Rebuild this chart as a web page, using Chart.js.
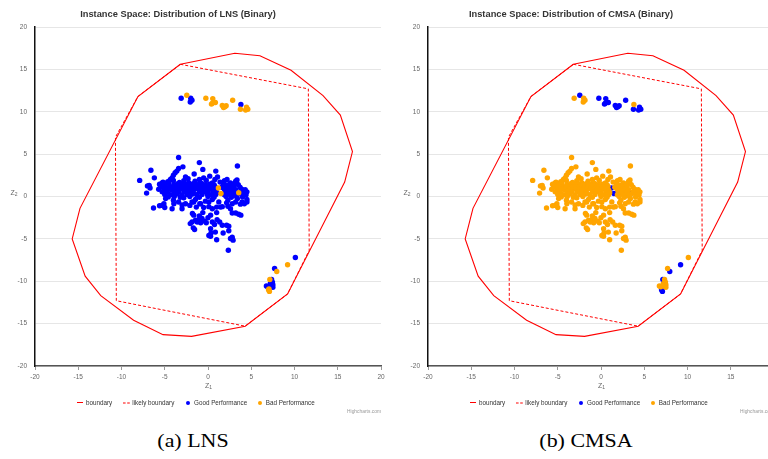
<!DOCTYPE html>
<html>
<head>
<meta charset="utf-8">
<script src="https://cdn.jsdelivr.net/npm/chart.js@4"></script>
<style>
  body { margin:0; width:768px; height:459px; overflow:hidden; background:#fff; position:relative;
         font-family:"Liberation Sans", Arial, Helvetica, sans-serif; }
  .panel { position:absolute; top:0; width:393px; height:459px; }
  .panel canvas { position:absolute; left:0; top:0; }
  .title { position:absolute; top:9px; left:0; width:356px; text-align:center; font-weight:bold;
           font-size:8.3px; line-height:10px; color:#333; transform:scaleX(1.12); white-space:nowrap; }
  .axt { position:absolute; font-size:7px; line-height:8px; color:#666; white-space:nowrap; }
  .axt span { font-size:5px; position:relative; top:1px; }
  .lg { position:absolute; font-size:6.3px; line-height:8px; top:398.7px; color:#333; white-space:nowrap; }
  .sym { position:absolute; }
  .dot { position:absolute; width:4.4px; height:4.4px; border-radius:50%; top:400.5px; }
  .credit { position:absolute; right:12px; top:409px; font-size:4.9px; line-height:6px; color:#999; }
  .caption { position:absolute; top:432px; left:0; width:386px; text-align:center;
             font-family:"Liberation Serif", "Times New Roman", serif; font-size:18px; line-height:18px;
             color:#000; transform:scaleX(1.22); }
</style>
</head>
<body>

<div class="panel" id="p0" style="left:0">
  <canvas id="c0" width="393" height="392"></canvas>
</div>
<div class="panel" id="p1" style="left:393px">
  <canvas id="c1" width="393" height="392"></canvas>
</div>

<script>
// boundary polygons (same instance space for both charts)
const boundaryX = [-3.2, 3.1, 6.0, 9.6, 13.3, 15.3, 16.7, 15.8, 9.2, 4.3, -1.9, -5.2, -8.6, -12.4, -14.2, -15.7, -14.8, -8.1, -3.2];
const boundaryY = [15.6, 16.9, 16.6, 14.9, 11.9, 9.6, 5.3, 1.7, -11.5, -15.3, -16.5, -16.3, -14.6, -11.7, -9.4, -5.0, -1.4, 11.8, 15.6];
const likelyX = [-3.2, 11.6, 11.7, 9.2, 4.3, -10.6, -10.7, -8.1, -3.2];
const likelyY = [15.6, 12.7, -6.35, -11.5, -15.3, -12.3, 7.0, 11.8, 15.6];

// instances where LNS is good and CMSA is bad
const mainA = [
  [-3.4,4.6],[-1.0,4.0],[3.4,3.6],[-2.9,3.5],[-0.6,3.2],[-6.6,3.1],[0.9,3.0],[1.1,2.3],[-1.6,2.65],[-6.2,2.2],
  [0.2,2.4],[-7.9,1.9],[3.35,1.95],[3.3,1.6],[-7.0,1.25],[-6.8,1.3],[-6.7,1.0],[-7.1,0.4],
  [-3.4,3.3],[-3.6,3.0],[-3.8,2.8],[-4.0,2.5],[-4.15,2.2],[-4.35,2.0],[-4.65,1.75],[-4.9,1.55],[-5.3,1.6],[-5.5,1.35],
  [-2.3,2.1],[-1.0,2.0],[2.2,2.0],[-0.5,2.2],[0.8,2.0],[1.9,1.85],[-2.6,2.3],
  [-5.2,1.7],[-4.0,1.9],[-3.3,1.65],[-2.8,1.85],[-2.2,1.6],[-1.5,1.8],[-0.9,1.65],[-0.2,1.9],[0.5,1.6],[1.4,1.7],[2.6,1.6],[3.2,1.8],
  [-5.6,1.45],[-5.0,1.4],[-4.5,1.5],[-3.9,1.4],[-3.5,1.5],[-3.0,1.4],[-2.6,1.5],[-2.1,1.4],[-1.7,1.5],[-1.2,1.4],
  [-0.7,1.5],[-0.3,1.4],[0.2,1.45],[0.7,1.4],[1.8,1.45],[2.3,1.35],[2.9,1.45],[3.5,1.4],
  [-5.4,1.15],[-4.9,1.1],[-4.4,1.2],[-4.0,1.1],[-3.6,1.2],[-3.2,1.1],[-2.8,1.15],[-2.4,1.2],[-1.9,1.1],[-1.5,1.15],
  [-1.1,1.2],[-0.6,1.1],[-0.2,1.15],[0.3,1.1],[0.8,1.2],[1.6,1.1],[2.1,1.2],[2.6,1.1],[3.0,1.15],[3.7,1.1],
  [-5.7,0.85],[-5.1,0.8],[-4.6,0.9],[-4.2,0.8],[-3.7,0.9],[-3.3,0.8],[-2.9,0.85],[-2.5,0.9],[-2.0,0.8],[-1.6,0.85],[-1.2,0.9],
  [-0.8,0.8],[-0.4,0.85],[0.1,0.9],[0.5,0.8],[0.9,0.75],[1.9,0.85],[2.4,0.8],[2.8,0.9],[3.2,0.8],[3.9,0.85],[4.3,0.8],
  [-5.3,0.55],[-4.7,0.5],[-3.9,0.6],[-3.4,0.5],[-2.7,0.55],[-2.2,0.6],[-1.7,0.5],[-1.0,0.55],[-0.5,0.6],
  [0.0,0.5],[0.6,0.55],[1.0,0.45],[2.0,0.55],[2.6,0.5],[3.0,0.6],[3.7,0.55],[4.1,0.5],[4.5,0.55],
  [-5.0,0.25],[-4.3,0.2],[-3.6,0.3],[-3.0,0.2],[-2.4,0.25],[-1.8,0.3],[-1.3,0.2],[-0.7,0.25],[-0.1,0.3],
  [0.4,0.2],[0.9,0.25],[1.9,0.2],[2.4,0.3],[2.9,0.2],[3.4,0.25],[4.0,0.3],[4.4,0.2],
  [-4.6,-0.05],[-3.9,0.0],[-3.2,-0.1],[-2.1,0.0],[-1.0,-0.1],[0.0,0.0],[0.7,-0.1],[2.1,0.0],[2.7,-0.1],[3.3,0.0],[4.0,-0.05],
  [-4.9,-0.25],[-4.0,-0.45],[-5.1,-0.85],[-2.8,-0.15],[-3.0,-1.0],[-1.85,-0.65],[-1.45,-0.35],[-0.85,-0.85],[-0.3,-0.55],
  [0.1,-1.2],[0.5,-0.35],[1.25,-0.65],[1.65,-1.2],[2.3,-0.45],[2.8,-0.85],[3.4,-0.25],[3.95,-0.65],[4.5,-0.35],[4.2,-0.85],
  [-6.3,-1.35],[-5.6,-1.1],[-5.3,-1.05],[-5.0,-1.3],[-4.15,-1.45],[-3.95,-0.85],[-3.4,-0.65],[-3.0,-1.45],[-2.6,-0.85],[-2.1,-1.05],
  [-1.65,-0.65],[-1.35,-1.25],[-0.95,-0.85],[-0.5,-1.3],[0.1,-0.65],[0.5,-1.45],[1.0,-1.25],[1.45,-1.25],[2.15,-0.75],[2.3,-1.15],
  [2.6,-1.45],[3.2,-0.65],[3.75,-0.9],[4.5,-0.65],
  [2.8,-1.95],[3.2,-1.95],[3.55,-2.1],[3.8,-2.2],[0.3,-2.2],[-1.65,-2.2],[-1.45,-2.8],[-1.05,-2.75],[-0.7,-2.6],[-0.4,-2.9],
  [-0.85,-3.1],[-1.25,-3.0],[-1.85,-3.0],[-2.05,-3.2],[0.5,-3.0],[0.75,-3.3],[1.05,-2.75],[1.35,-3.0],[1.65,-3.4],[2.15,-3.4],
  [2.4,-3.5],[-1.8,-2.0],[-0.6,-1.9],[1.0,-1.9],[0.0,-2.5],[-0.2,-3.1],[-1.0,-2.3],
  [-1.7,-3.7],[-1.55,-3.9],[0.3,-3.8],[0.35,-4.3],[0.1,-4.6],[0.85,-4.2],[1.0,-5.1],[1.75,-4.3],[2.4,-4.05],[2.6,-4.95],
  [2.9,-5.15],[2.8,-4.8],[2.35,-6.35],[0.3,-4.7]
];
const topA = [[-3.1,11.6],[-2.0,11.6],[-1.85,11.35],[-2.05,11.15],[3.8,10.85]];
const lowA = [[10.1,-7.2],[7.7,-8.5],[7.35,-9.8],[7.45,-10.1],[7.5,-10.4],[7.35,-10.6],[7.5,-10.7],[6.75,-10.55],[6.9,-10.65],[7.2,-10.3]];

// instances where LNS is bad and CMSA is good
const mainB = [[1.2,1.0],[1.5,0.35],[3.55,0.45]];
const topB = [[-2.45,11.95],[-0.25,11.6],[0.55,11.55],[0.5,11.0],[0.85,11.1],[0.4,10.9],[1.65,10.75],[1.95,10.6],[2.1,10.7],
  [1.8,10.5],[2.85,11.35],[3.75,10.3],[4.45,10.55],[4.6,10.3],[4.35,10.2]];
const lowB = [[9.2,-8.05],[7.95,-8.85],[7.15,-9.8],[7.05,-10.9],[7.1,-11.2],[7.0,-11.0]];

const xTicks = [-20, -15, -10, -5, 0, 5, 10, 15, 20];
const yTicks = [-20, -15, -10, -5, 0, 5, 10, 15, 20];

const charts = [
  { name: 'LNS', caption: '(a) LNS' },
  { name: 'CMSA', caption: '(b) CMSA' }
];

const groupA = mainA.concat(topA, lowA);
const groupB = mainB.concat(topB, lowB);
const toXY = arr => arr.map(p => ({ x: p[0], y: p[1] }));
const boundary = boundaryX.map((x, i) => ({ x: x, y: boundaryY[i] }));
const likely = likelyX.map((x, i) => ({ x: x, y: likelyY[i] }));

Chart.defaults.font.family = '"Liberation Sans", Arial, sans-serif';

function makeChart(idx, good, bad) {
  const panel = document.getElementById('p' + idx);
  const info = charts[idx];

  // text around the plot
  panel.insertAdjacentHTML('beforeend', `
    <div class="title">Instance Space: Distribution of ${info.name} (Binary)</div>
    <div class="axt" style="left:10.5px;top:189px">Z<span>2</span></div>
    <div class="axt" style="left:205px;top:382px">Z<span>1</span></div>
    <div class="sym" style="left:76.7px;top:402.1px;width:6.6px;height:1.2px;background:#ff0000"></div>
    <div class="lg" style="left:86px">boundary</div>
    <svg class="sym" style="left:122.7px;top:400.7px" width="7" height="4"><line x1="0" y1="2" x2="7" y2="2" stroke="#ff0000" stroke-width="1.2" stroke-dasharray="2.6,1.6"/></svg>
    <div class="lg" style="left:132.3px">likely boundary</div>
    <div class="dot" style="left:185.5px;background:#0000ff"></div>
    <div class="lg" style="left:194px">Good Performance</div>
    <div class="dot" style="left:257.8px;background:#ffa500"></div>
    <div class="lg" style="left:265.7px">Bad Performance</div>
    <div class="credit">Highcharts.com</div>
    <div class="caption">${info.caption}</div>
  `);

  new Chart(document.getElementById('c' + idx), {
    type: 'scatter',
    data: {
      datasets: [
        { label: 'boundary', data: boundary, showLine: true, borderColor: '#ff0000', borderWidth: 1.1,
          pointRadius: 0, order: 2 },
        { label: 'likely boundary', data: likely, showLine: true, borderColor: '#ff0000', borderWidth: 1,
          borderDash: [3, 2], pointRadius: 0, order: 3 },
        { label: 'Good Performance', data: toXY(good), backgroundColor: '#0000ff', pointBorderWidth: 0,
          pointRadius: 2.7, order: 1 },
        { label: 'Bad Performance', data: toXY(bad), backgroundColor: '#ffa500', pointBorderWidth: 0,
          pointRadius: 2.7, order: 0 }
      ]
    },
    options: {
      responsive: false,
      animation: false,
      events: [],
      layout: { padding: { top: 27, right: 12, bottom: 0, left: 0 } },
      plugins: { legend: { display: false }, tooltip: { enabled: false } },
      scales: {
        x: {
          type: 'linear', min: -20, max: 20,
          afterBuildTicks: s => { s.ticks = xTicks.map(v => ({ value: v })); },
          ticks: { font: { size: 6.5 }, color: '#666', padding: 3, maxRotation: 0, autoSkip: false },
          grid: { drawOnChartArea: false, drawTicks: true, tickLength: 4, color: '#999' },
          border: { color: '#555', width: 1.5 },
          afterFit: s => { s.height = 26; s.paddingLeft = 0; s.paddingRight = 0; }
        },
        y: {
          type: 'linear', min: -20, max: 20,
          afterBuildTicks: s => { s.ticks = yTicks.map(v => ({ value: v })); },
          ticks: { font: { size: 6.5 }, color: '#666', padding: 8, autoSkip: false },
          grid: { color: '#e6e6e6', drawTicks: false },
          border: { color: '#111', width: 1.5 },
          afterFit: s => { s.width = 35; s.paddingTop = 0; s.paddingBottom = 0; }
        }
      }
    }
  });
}

// LNS: group A good, group B bad; CMSA: the other way round
makeChart(0, groupA, groupB);
makeChart(1, groupB, groupA);
</script>
</body>
</html>
